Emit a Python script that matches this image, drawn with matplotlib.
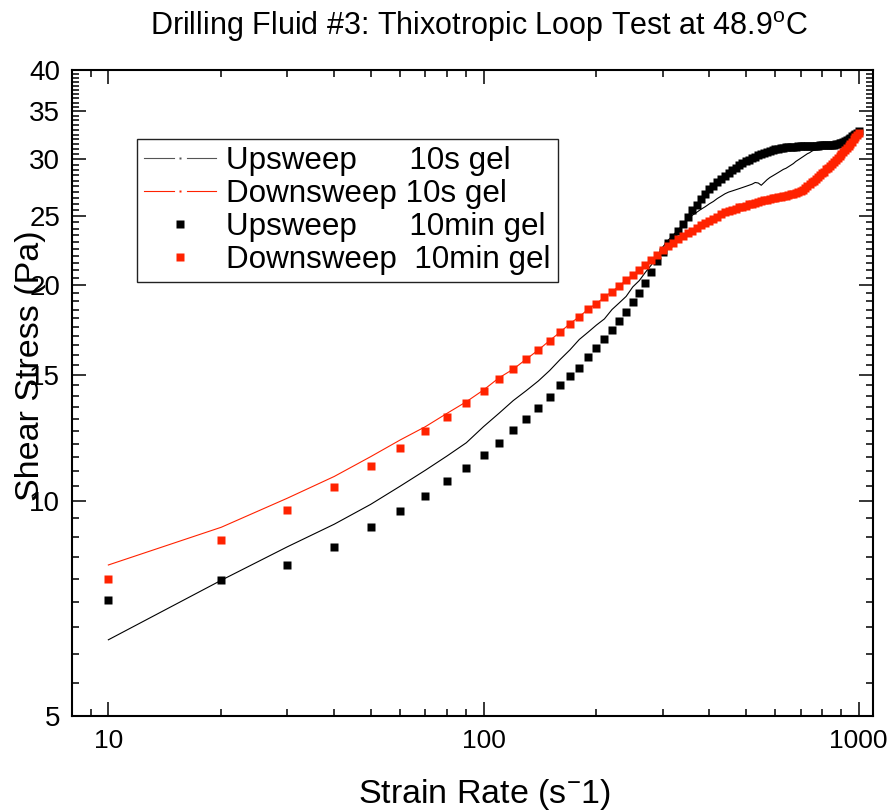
import numpy as np
import matplotlib
matplotlib.use("Agg")
import matplotlib.pyplot as plt
from matplotlib.lines import Line2D
from matplotlib.legend_handler import HandlerBase
from matplotlib.ticker import FixedLocator, FuncFormatter, NullFormatter
from matplotlib import font_manager

plt.rcParams['font.family'] = ['Liberation Sans', 'DejaVu Sans']
plt.rcParams['mathtext.fontset'] = 'custom'
plt.rcParams['mathtext.rm'] = 'Liberation Sans'
plt.rcParams['mathtext.it'] = 'Liberation Sans:italic'
plt.rcParams['mathtext.default'] = 'regular'

# narrow face for the x axis texts, if installed
try:
    font_manager.findfont(font_manager.FontProperties(family='Liberation Sans Narrow'),
                          fallback_to_default=False)
    NARROW = True
except Exception:
    NARROW = False

# ---------------- data ----------------
strain_rate = list(range(10, 1001, 10))

up_10min = [7.27, 7.74, 8.13, 8.62, 9.20, 9.66, 10.16, 10.67, 11.12, 11.60,
            12.05, 12.55, 13.01, 13.47, 13.95, 14.51, 14.94, 15.35, 15.90, 16.34,
            16.81, 17.32, 17.85, 18.37, 18.98, 19.53, 20.13, 20.85, 21.6, 22.3,
            22.9, 23.4, 23.85, 24.35, 24.9, 25.45, 25.9, 26.4, 26.85, 27.25,
            27.55, 27.9, 28.2, 28.45, 28.7, 28.95, 29.2, 29.45, 29.65, 29.8,
            29.95, 30.1, 30.25, 30.4, 30.5, 30.6, 30.7, 30.8, 30.9, 31.0,
            31.05, 31.1, 31.15, 31.2, 31.2, 31.25, 31.25, 31.25, 31.3, 31.3,
            31.3, 31.3, 31.3, 31.35, 31.35, 31.35, 31.35, 31.35, 31.4, 31.4,
            31.4, 31.4, 31.4, 31.4, 31.45, 31.45, 31.5, 31.55, 31.6, 31.65,
            31.7, 31.8, 31.9, 32.0, 32.15, 32.3, 32.45, 32.55, 32.7, 32.85]

down_10min = [7.78, 8.81, 9.70, 10.46, 11.19, 11.86, 12.53, 13.10, 13.71, 14.25,
              14.79, 15.27, 15.77, 16.24, 16.74, 17.20, 17.68, 18.08, 18.52, 18.86,
              19.25, 19.60, 19.96, 20.33, 20.68, 21.02, 21.35, 21.7, 22.05, 22.4,
              22.7, 22.95, 23.2, 23.45, 23.65, 23.85, 24.05, 24.25, 24.45, 24.6,
              24.8, 24.95, 25.15, 25.3, 25.4, 25.5, 25.6, 25.7, 25.75, 25.85,
              25.95, 26.0, 26.1, 26.15, 26.2, 26.3, 26.35, 26.4, 26.45, 26.5,
              26.55, 26.6, 26.65, 26.7, 26.75, 26.8, 26.85, 26.9, 27.0, 27.1,
              27.2, 27.35, 27.5, 27.7, 27.85, 28.0, 28.2, 28.35, 28.5, 28.7,
              28.85, 29.05, 29.2, 29.4, 29.55, 29.75, 29.9, 30.1, 30.3, 30.5,
              30.7, 30.9, 31.1, 31.3, 31.5, 31.75, 32.0, 32.2, 32.45, 32.7]

up_10s = [6.39, 7.74, 8.62, 9.27, 9.88, 10.48, 11.03, 11.55, 12.05, 12.69,
          13.25, 13.8, 14.25, 14.7, 15.2, 15.75, 16.25, 16.8, 17.2, 17.6,
          17.95, 18.5, 18.9, 19.3, 19.9, 20.3, 20.85, 21.35, 21.9, 22.6,
          23.1, 23.5, 23.9, 24.3, 24.75, 25.05, 25.3, 25.55, 25.76, 26.0,
          26.2, 26.45, 26.65, 26.85, 27.0, 27.1, 27.2, 27.3, 27.4, 27.5,
          27.6, 27.7, 27.85, 27.8, 27.6, 27.85, 28.1, 28.3, 28.45, 28.6,
          28.75, 28.9, 29.05, 29.15, 29.3, 29.45, 29.6, 29.8, 29.95, 30.1,
          30.25, 30.4, 30.55, 30.65, 30.8, 30.9, 31.0, 31.1, 31.15, 31.2,
          31.25, 31.3, 31.3, 31.35, 31.35, 31.4, 31.45, 31.5, 31.55, 31.6,
          31.7, 31.8, 31.9, 32.0, 32.15, 32.3, 32.45, 32.55, 32.7, 32.85]

down_10s = [8.13, 9.18, 10.08, 10.81, 11.52, 12.16, 12.69, 13.25, 13.75, 14.28,
            14.85, 15.27, 15.77, 16.24, 16.74, 17.20, 17.68, 18.08, 18.52, 18.86,
            19.25, 19.60, 19.96, 20.33, 20.68, 21.02, 21.35, 21.7, 22.05, 22.4,
            22.7, 22.95, 23.2, 23.45, 23.65, 23.85, 24.05, 24.25, 24.45, 24.6,
            24.8, 24.95, 25.15, 25.3, 25.4, 25.5, 25.6, 25.7, 25.75, 25.85,
            25.95, 26.0, 26.1, 26.15, 26.2, 26.3, 26.35, 26.4, 26.45, 26.5,
            26.55, 26.6, 26.65, 26.7, 26.75, 26.8, 26.85, 26.9, 27.0, 27.1,
            27.2, 27.35, 27.5, 27.7, 27.85, 28.0, 28.2, 28.35, 28.5, 28.7,
            28.85, 29.05, 29.2, 29.4, 29.55, 29.75, 29.9, 30.1, 30.3, 30.5,
            30.7, 30.9, 31.1, 31.3, 31.5, 31.75, 32.0, 32.2, 32.45, 32.7]

labels = ["Upsweep      10s gel", "Downsweep 10s gel",
          "Upsweep      10min gel", "Downsweep  10min gel"]

y_major = [5, 10, 15, 20, 25, 30, 35, 40]
x_major = [10, 100, 1000]

RED = '#ff2200'
W, H = 888, 811

fig = plt.figure(figsize=(W / 100, H / 100), dpi=100)
L, R, T, B = 72, 873, 70, 716
ax = fig.add_axes([L / W, 1 - B / H, (R - L) / W, (B - T) / H])

ax.plot(strain_rate, up_10s, color='black', lw=0.8)
ax.plot(strain_rate, down_10s, color=RED, lw=0.8)
ax.plot(strain_rate, up_10min, ls='none', marker='s', ms=6.3, mec='none', mfc='black')
ax.plot(strain_rate, down_10min, ls='none', marker='s', ms=6.3, mec='none', mfc=RED)

ax.set_xscale('log')
ax.set_yscale('log')
ax.set_xlim(8, 1092)
ax.set_ylim(5, 40)

# ticks
ax.xaxis.set_major_locator(FixedLocator(x_major))
x_minor = [9] + [m * d for d in (10, 100) for m in range(2, 10)]
ax.xaxis.set_minor_locator(FixedLocator(x_minor))
ax.yaxis.set_major_locator(FixedLocator(y_major))
y_minor = [5 + k * 5 / 9 for k in range(1, 9)] + [v / 2 for v in range(21, 80) if v % 10 != 0]
ax.yaxis.set_minor_locator(FixedLocator(y_minor))
fmt = FuncFormatter(lambda v, p: '%g' % v)
ax.xaxis.set_major_formatter(fmt)
ax.yaxis.set_major_formatter(fmt)
ax.xaxis.set_minor_formatter(NullFormatter())
ax.yaxis.set_minor_formatter(NullFormatter())
ax.tick_params(which='both', direction='in', top=True, right=True, width=1.1)
ax.tick_params(which='major', length=10)
ax.tick_params(which='minor', length=5)
ax.tick_params(axis='y', which='major', pad=8.6, labelsize=20)
ax.tick_params(axis='x', which='major', pad=9, labelsize=19)
if NARROW:
    for t in ax.get_xticklabels():
        t.set_family(['Liberation Sans Narrow', 'Liberation Sans'])
        t.set_fontsize(22)
for s in ax.spines.values():
    s.set_linewidth(1.5)

ax.set_ylabel('Shear Stress (Pa)', fontsize=24.5, va='center', ha='center')
ax.yaxis.set_label_coords((30 - L) / (R - L), (B - 366) / (B - T))
if NARROW:
    ax.set_xlabel('Strain Rate (s$^{-}$1)', fontsize=28, va='center', ha='center',
                  family=['Liberation Sans Narrow', 'Liberation Sans'])
else:
    ax.set_xlabel('Strain Rate (s$^{-}$1)', fontsize=24.5, va='center', ha='center')
ax.xaxis.set_label_coords((485 - L) / (R - L), (B - 794) / (B - T))

ax.set_title('Drilling Fluid #3: Thixotropic Loop Test at 48.9$^{o}$C', fontsize=22,
             x=(479 - L) / (R - L), y=(B - 27) / (B - T), va='center', pad=0)


class LineDotHandler(HandlerBase):
    def create_artists(self, legend, orig_handle, xdescent, ydescent, width, height, fontsize, trans):
        c = orig_handle.get_color()
        y = (height - ydescent) / 2
        x0 = -xdescent
        x1 = x0 + width
        xm = (x0 + x1) / 2
        gap = width * 0.09
        a1 = Line2D([x0, xm - gap], [y, y], color=c, lw=0.8, transform=trans)
        a2 = Line2D([xm + gap, x1], [y, y], color=c, lw=0.8, transform=trans)
        a3 = Line2D([xm], [y], ls='none', marker='s', ms=2, mec='none', mfc=c, transform=trans)
        return [a1, a2, a3]


h1 = Line2D([], [], color='#555555')
h2 = Line2D([], [], color=RED)
h3 = Line2D([], [], ls='none', marker='s', ms=6.3, mec='none', mfc='black')
h4 = Line2D([], [], ls='none', marker='s', ms=6.3, mec='none', mfc=RED)
leg = ax.legend([h1, h2, h3, h4], labels, loc='upper left',
                bbox_to_anchor=(137 / W, 1 - 139 / H), bbox_transform=fig.transFigure,
                fontsize=22.6, frameon=True, fancybox=False, framealpha=1,
                edgecolor='#222222', borderpad=0.22, labelspacing=0.1,
                handlelength=2.3, handletextpad=0.33, borderaxespad=0,
                numpoints=1, handler_map={h1: LineDotHandler(), h2: LineDotHandler()})
leg.get_frame().set_linewidth(1.0)

fig.savefig('out.png', dpi=100)
